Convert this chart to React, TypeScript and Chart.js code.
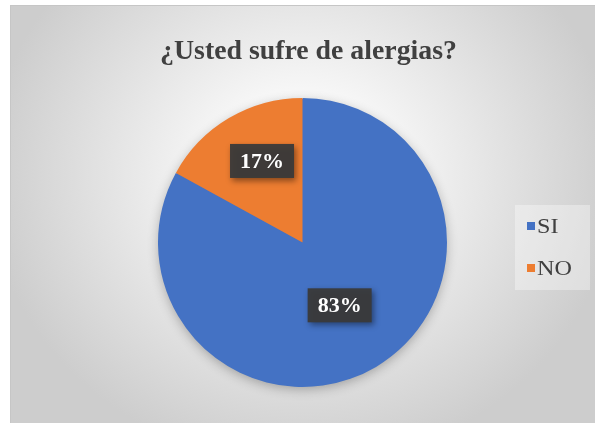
import React, { useEffect, useRef } from 'react';
import { Chart, registerables } from 'chart.js';

Chart.register(...registerables);

const chartTitle = '¿Usted sufre de alergias?';
const categories = ['SI', 'NO'];
const percentValues = [83, 17];
const sliceColors = ['#4472C4', '#ED7D31'];

const SERIF = "'Liberation Serif', 'Times New Roman', serif";
const TEXT_COLOR = '#404040';

const frameBackground = {
  id: 'frameBackground',
  beforeDraw(chart: any) {
    const { ctx, width, height } = chart;
    ctx.save();
    ctx.fillStyle = '#ffffff';
    ctx.fillRect(0, 0, width, height);
    const fx = 10, fy = 5, fw = width - fx, fh = height - fy;
    const cx = 302, cy = 175, rx = 315, ry = 290;
    ctx.save();
    ctx.beginPath();
    ctx.rect(fx, fy, fw, fh);
    ctx.clip();
    ctx.translate(cx, cy);
    ctx.scale(1, ry / rx);
    const g = ctx.createRadialGradient(0, 0, 0, 0, 0, rx);
    g.addColorStop(0, '#ffffff');
    g.addColorStop(0.3, '#f6f6f6');
    g.addColorStop(1, '#cdcdcd');
    ctx.fillStyle = g;
    ctx.fillRect(-2000, -2000, 4000, 4000);
    ctx.restore();
    ctx.strokeStyle = '#c6c6c6';
    ctx.lineWidth = 1;
    ctx.strokeRect(fx + 0.5, fy + 0.5, fw, fh);
    ctx.restore();
  },
};

const stretchedTitle = {
  id: 'stretchedTitle',
  afterDraw(chart: any, _a: any, opts: any) {
    const { ctx, chartArea } = chart;
    const cx = (chartArea.left + chartArea.right) / 2 + opts.offsetX;
    ctx.save();
    ctx.font = `bold ${opts.size}px ${SERIF}`;
    ctx.fillStyle = opts.color;
    ctx.textAlign = 'center';
    ctx.textBaseline = 'alphabetic';
    ctx.translate(cx, opts.baseline);
    ctx.scale(opts.scaleX, 1);
    ctx.fillText(opts.text, 0, 0);
    ctx.restore();
  },
};

const sideLegend = {
  id: 'sideLegend',
  afterDraw(chart: any, _a: any, opts: any) {
    const { ctx } = chart;
    const labels = chart.data.labels as string[];
    const colors = chart.data.datasets[0].backgroundColor as string[];
    ctx.save();
    ctx.fillStyle = 'rgba(255,255,255,0.35)';
    ctx.fillRect(opts.boxX, opts.boxY, opts.boxW, opts.boxH);
    ctx.font = `${opts.size}px ${SERIF}`;
    ctx.textBaseline = 'middle';
    labels.forEach((lab, i) => {
      const yc = opts.firstY + i * opts.step;
      ctx.fillStyle = colors[i];
      ctx.fillRect(opts.markerX, yc - opts.marker / 2, opts.marker, opts.marker);
      ctx.save();
      ctx.fillStyle = TEXT_COLOR;
      ctx.translate(opts.markerX + opts.marker + opts.gap, yc + 1);
      ctx.scale(opts.scaleX, 1);
      ctx.fillText(lab, 0, 0);
      ctx.restore();
    });
    ctx.restore();
  },
};

const pieShadow = {
  id: 'pieShadow',
  beforeDatasetsDraw(chart: any) {
    const meta = chart.getDatasetMeta(0);
    const arc = meta.data[0];
    if (!arc) return;
    const { x, y, outerRadius } = arc.getProps(['x', 'y', 'outerRadius'], true);
    const { ctx } = chart;
    ctx.save();
    ctx.shadowColor = 'rgba(0,0,0,0.3)';
    ctx.shadowBlur = 12;
    ctx.shadowOffsetY = 3;
    ctx.fillStyle = sliceColors[0];
    ctx.beginPath();
    ctx.arc(x, y, outerRadius - 1, 0, Math.PI * 2);
    ctx.fill();
    ctx.restore();
  },
};

const sliceLabels = {
  id: 'sliceLabels',
  afterDatasetsDraw(chart: any, _args: any, opts: any) {
    const meta = chart.getDatasetMeta(0);
    const data = chart.data.datasets[0].data as number[];
    const total = data.reduce((a, b) => a + b, 0);
    const { ctx } = chart;
    meta.data.forEach((arc: any, i: number) => {
      const { x, y, startAngle, endAngle, outerRadius } = arc.getProps(
        ['x', 'y', 'startAngle', 'endAngle', 'outerRadius'],
        true
      );
      const mid = (startAngle + endAngle) / 2 + (opts.angleShift[i] * Math.PI) / 180;
      const r = outerRadius * opts.radial[i];
      const px = x + Math.cos(mid) * r;
      const py = y + Math.sin(mid) * r;
      const text = Math.round((data[i] / total) * 100) + '%';
      ctx.save();
      ctx.font = `bold 22px ${SERIF}`;
      const tw = ctx.measureText(text).width;
      const bw = tw + 20;
      const bh = 34;
      ctx.shadowColor = 'rgba(0,0,0,0.45)';
      ctx.shadowBlur = 6;
      ctx.shadowOffsetX = 2;
      ctx.shadowOffsetY = 3;
      ctx.fillStyle = 'rgba(58,58,58,0.95)';
      ctx.fillRect(px - bw / 2, py - bh / 2, bw, bh);
      ctx.shadowColor = 'transparent';
      ctx.fillStyle = '#ffffff';
      ctx.textAlign = 'center';
      ctx.textBaseline = 'middle';
      ctx.fillText(text, px, py + 1);
      ctx.restore();
    });
  },
};

export default function App() {
  const canvasRef = useRef<HTMLCanvasElement | null>(null);

  useEffect(() => {
    const canvas = canvasRef.current;
    if (!canvas) return;
    const chart = new Chart(canvas, {
      type: 'pie',
      data: {
        labels: categories,
        datasets: [
          {
            data: percentValues,
            backgroundColor: sliceColors,
            borderWidth: 0,
            hoverOffset: 0,
          },
        ],
      },
      options: {
        responsive: false,
        animation: false,
        events: [],
        layout: { padding: { left: 103, right: 93, top: 98, bottom: 36 } },
        plugins: {
          title: { display: false },
          legend: { display: false },
          tooltip: { enabled: false },
          stretchedTitle: { text: chartTitle, size: 27, scaleX: 1.03, baseline: 59, offsetX: 6, color: TEXT_COLOR },
          sideLegend: {
            boxX: 515, boxY: 205, boxW: 75, boxH: 85,
            markerX: 527, marker: 8, gap: 2,
            firstY: 226, step: 42,
            size: 21, scaleX: 1.15,
          },
          sliceLabels: { radial: [0.505, 0.63], angleShift: [0, 4.2] },
        } as any,
      },
      plugins: [frameBackground, pieShadow, sliceLabels, stretchedTitle, sideLegend],
    });
    return () => chart.destroy();
  }, []);

  return (
    <div style={{ position: 'absolute', left: 0, top: 0, width: 595, height: 423 }}>
      <canvas ref={canvasRef} width={595} height={423} style={{ display: 'block' }} />
    </div>
  );
}
